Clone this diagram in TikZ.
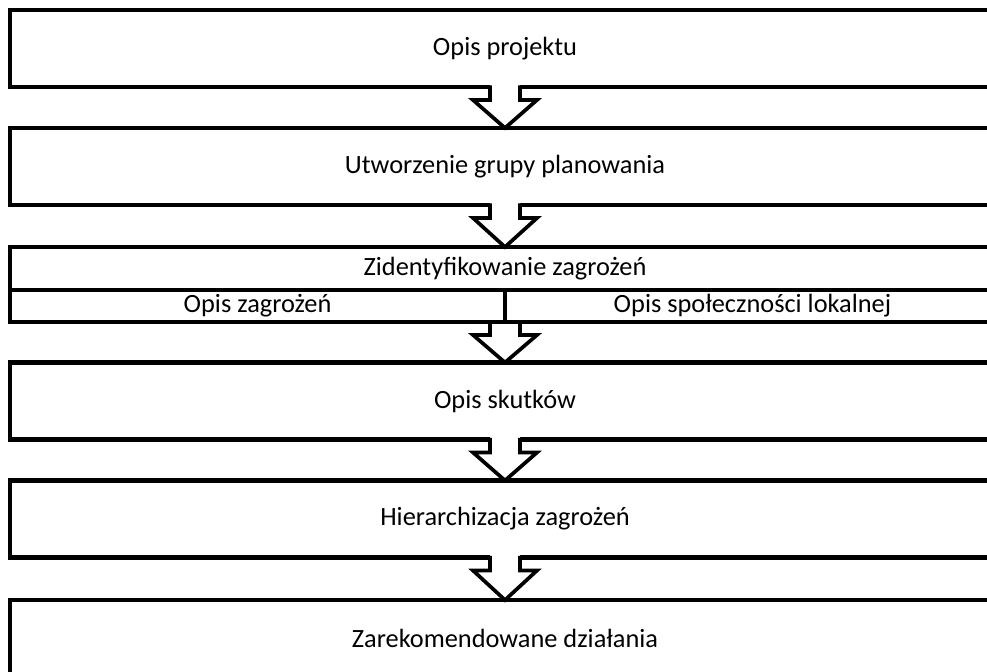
\documentclass[tikz,border=0pt]{standalone}
\usepackage{fontspec}
\setmainfont{Carlito}
\usetikzlibrary{calc,positioning}

% strzałka blokowa od dolnej krawędzi #1 do górnej krawędzi #2
\newcommand{\strzalka}[2]{%
  \fill[white] ($(#1.south)+(-15,-3)$) -- ($(#1.south)+(-15,13)$)
    -- ($(#1.south)+(-32,13)$) -- (#2.north) -- ($(#1.south)+(32,13)$)
    -- ($(#1.south)+(15,13)$) -- ($(#1.south)+(15,-3)$) -- cycle;
  \draw[strz] ($(#1.south)+(-15,-1.6)$) -- ($(#1.south)+(-15,13)$)
    -- ($(#1.south)+(-32,13)$) -- (#2.north) -- ($(#1.south)+(32,13)$)
    -- ($(#1.south)+(15,13)$) -- ($(#1.south)+(15,-1.6)$);
}

\begin{document}
\begin{tikzpicture}[x=0.02cm, y=-0.02cm,
    krok/.style={draw, line width=2.5pt, outer sep=0pt, minimum width=19.8cm,
      minimum height=1.54cm, inner sep=0pt, font=\fontsize{15}{18}\selectfont},
    pole/.style={inner sep=0pt, outer sep=0pt, font=\fontsize{15}{18}\selectfont},
    strz/.style={line width=2.1pt, line join=miter}]
  \useasboundingbox (0,0) rectangle (987,672);
  \clip (0,0) rectangle (987,672);
  % kolejne etapy
  \node[krok] (opis) at (505,48.5) {Opis projektu};
  \node[krok] (grupa) at (505,166.5) {Utworzenie grupy planowania};
  % etap z podziałem na dwie kolumny
  \node[krok, minimum height=1.5cm] (blok) at (505,284.5) {};
  \node[pole, minimum width=19.8cm, minimum height=0.86cm, below=0pt of blok.north]
    (ident) {Zidentyfikowanie zagrożeń};
  \node[pole, minimum width=9.9cm, minimum height=0.64cm, below right=0pt and 0pt of ident.south west]
    (zagr) {Opis zagrożeń};
  \node[pole, minimum width=9.9cm, minimum height=0.64cm, right=0pt of zagr]
    (spol) {Opis społeczności lokalnej};
  \draw[line width=2pt] (ident.south west) -- (ident.south east);
  \node[krok] (skutki) at (505,401) {Opis skutków};
  \node[krok] (hier) at (505,519) {Hierarchizacja zagrożeń};
  \node[krok] (dzial) at (505,638.5) {Zarekomendowane działania};
  % strzałki między etapami
  \strzalka{opis}{grupa}
  \strzalka{grupa}{blok}
  \strzalka{blok}{skutki}
  \strzalka{skutki}{hier}
  \strzalka{hier}{dzial}
  % podział i dolna krawędź bloku nad strzałką
  \draw[line width=1.8pt] (zagr.north east) -- (zagr.south east);
  \draw[line width=2.5pt] (blok.south west) -- (blok.south east);
\end{tikzpicture}
\end{document}
